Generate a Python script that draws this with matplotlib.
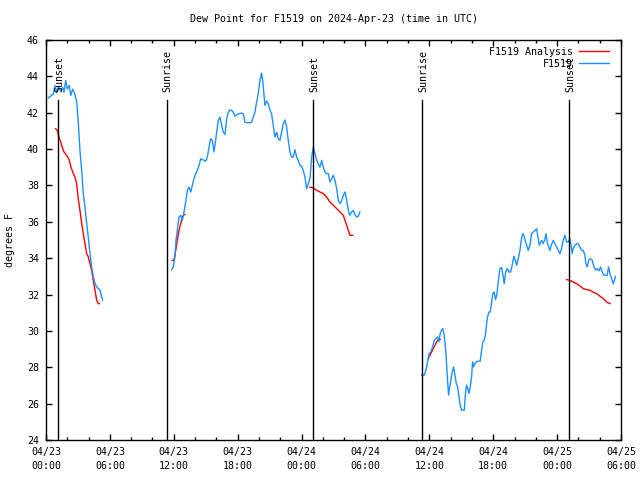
import matplotlib
matplotlib.use("Agg")
import matplotlib.pyplot as plt
import numpy as np

# time in hours since 2024-04-23 00:00 UTC
blue1_t = [0.22, 0.69, 0.85, 1.00, 1.15, 1.38, 1.57, 1.69, 1.85, 2.00, 2.19, 2.32, 2.51, 2.69, 2.88,
           3.03, 3.19, 3.35, 3.50, 3.66, 3.82, 3.97, 4.13, 4.29, 4.44, 4.60, 4.76, 4.91, 5.07, 5.23, 5.32]
blue1_v = [42.82, 43.04, 43.5, 43.1, 43.4, 43.2, 43.4, 43.13, 43.77, 43.3, 43.5, 42.95, 43.3, 43.05, 42.6,
           41.48, 39.9, 38.83, 37.55, 36.81, 35.9, 35.16, 34.25, 33.5, 32.97, 32.6, 32.42, 32.33, 32.24, 31.87, 31.69]

blue2_t = [11.80, 11.95, 12.11, 12.21, 12.37, 12.49, 12.65, 12.80, 12.96, 13.12, 13.27, 13.43, 13.59, 13.74,
           13.90, 14.06, 14.21, 14.37, 14.53, 14.68, 14.84, 15.00, 15.15, 15.31, 15.46, 15.62, 15.77, 15.87,
           16.03, 16.18, 16.34, 16.50, 16.65, 16.81, 16.97, 17.12, 17.28, 17.44, 17.59, 17.75, 17.91, 18.12,
           18.38, 18.53, 18.69, 18.85, 19.15, 19.32, 19.46, 19.62, 19.78, 19.93, 20.09, 20.25, 20.35, 20.47,
           20.56, 20.72, 20.87, 21.03, 21.19, 21.34, 21.50, 21.66, 21.81, 21.97, 22.13, 22.28, 22.44, 22.60,
           22.75, 22.91, 23.07, 23.22, 23.38, 23.54, 23.69, 23.85, 24.01, 24.16, 24.32, 24.48, 24.63, 24.79,
           24.95, 25.10, 25.26, 25.42, 25.57, 25.73, 25.89, 26.04, 26.20, 26.35, 26.51, 26.67, 26.83, 26.98,
           27.14, 27.30, 27.45, 27.61, 27.77, 27.92, 28.08, 28.24, 28.39, 28.54, 28.70, 28.86, 29.01, 29.17,
           29.32, 29.48]
blue2_v = [33.37, 33.52, 34.07, 34.98, 35.71, 36.26, 36.36, 36.08, 36.54, 37.09, 37.73, 37.91, 37.64, 38.0,
           38.37, 38.65, 38.83, 39.1, 39.47, 39.42, 39.38, 39.34, 39.56, 40.1, 40.57, 40.48, 39.84, 40.2,
           40.93, 41.58, 41.76, 41.3, 40.93, 40.8, 41.67, 42.03, 42.16, 42.12, 42.03, 41.8, 41.9, 41.94,
           41.98, 41.94, 41.48, 41.45, 41.45, 41.48, 41.76, 42.03, 42.58, 43.04, 43.77, 44.18, 43.77, 43.0,
           42.4, 42.65, 42.5, 42.15, 41.94, 41.3, 40.66, 40.93, 40.57, 40.48, 40.93, 41.4, 41.6, 41.2,
           40.48, 39.84, 39.56, 39.56, 39.97, 39.56, 39.38, 39.1, 39.05, 38.83, 38.46, 37.82, 38.1, 38.37,
           39.56, 40.11, 39.75, 39.38, 39.2, 39.01, 39.38, 39.01, 38.74, 38.65, 38.65, 38.19, 38.37, 38.56,
           38.28, 37.82, 37.18, 37.0, 37.18, 37.45, 37.64, 37.18, 36.63, 36.36, 36.54, 36.63, 36.41, 36.26,
           36.3, 36.54]

blue3_t = [35.28, 35.52, 35.68, 35.84, 35.99, 36.15, 36.31, 36.46, 36.62, 36.78, 36.90, 37.02, 37.15, 37.25,
           37.37, 37.46, 37.56, 37.65, 37.75, 37.81, 37.91, 38.03, 38.15, 38.28, 38.40, 38.53, 38.66, 38.78,
           38.90, 39.03, 39.28, 39.41, 39.50, 39.60, 39.72, 39.84, 39.97, 40.06, 40.16, 40.28, 40.44, 40.59,
           40.78, 40.91, 41.03, 41.15, 41.29, 41.38, 41.47, 41.60, 41.72, 41.85, 41.97, 42.09, 42.22, 42.35,
           42.47, 42.63, 42.79, 42.94, 43.03, 43.17, 43.32, 43.47, 43.63, 43.78, 43.94, 44.07, 44.20, 44.35,
           44.51, 44.63, 44.76, 44.88, 45.00, 45.14, 45.29, 45.45, 45.60, 45.76, 45.92, 46.08, 46.20, 46.32,
           46.45, 46.57, 46.69, 46.83, 46.95, 47.07, 47.20, 47.32, 47.45, 47.63, 47.79, 47.95, 48.10, 48.26,
           48.42, 48.57, 48.73, 48.89, 49.04, 49.20, 49.32, 49.42, 49.51, 49.67, 49.83, 49.98, 50.14, 50.30,
           50.45, 50.61, 50.70, 50.83, 50.99, 51.15, 51.30, 51.46, 51.62, 51.77, 51.93, 52.08, 52.23, 52.39,
           52.55, 52.70, 52.83, 52.96, 53.12, 53.27, 53.40, 53.49]
blue3_v = [27.57, 27.57, 27.84, 28.30, 28.76, 28.85, 29.12, 29.49, 29.58, 29.67, 29.40, 29.86, 30.04, 30.13,
           29.86, 29.40, 28.76, 27.84, 26.92, 26.47, 26.92, 27.29, 27.75, 28.02, 27.57, 27.11, 26.92, 26.37,
           25.92, 25.64, 25.64, 26.65, 27.02, 26.83, 26.56, 26.92, 27.47, 28.30, 28.02, 28.21, 28.30, 28.34,
           28.34, 28.94, 29.40, 29.49, 29.86, 30.41, 30.77, 31.04, 31.04, 31.59, 32.05, 32.14, 31.72, 32.05,
           32.69, 33.43, 33.48, 32.97, 32.6, 33.24, 33.43, 33.24, 33.24, 33.61, 34.1, 33.88, 33.61, 33.97,
           34.43, 34.98, 35.35, 35.26, 34.98, 34.71, 34.43, 34.71, 35.35, 35.44, 35.53, 35.62, 35.16, 34.71,
           34.89, 34.98, 34.80, 34.98, 35.35, 34.89, 34.62, 34.43, 34.71, 34.98, 34.80, 34.62, 34.43, 34.25,
           34.53, 34.98, 35.26, 34.89, 34.89, 35.07, 34.71, 34.25, 34.53, 34.71, 34.80, 34.80, 34.62, 34.43,
           34.43, 34.16, 33.70, 33.52, 33.92, 33.97, 33.88, 33.52, 33.34, 33.43, 33.30, 33.52, 33.24, 33.06,
           33.06, 33.06, 33.52, 33.15, 32.88, 32.6, 32.82, 33.0]

red1_t = [0.91, 1.06, 1.22, 1.38, 1.53, 1.69, 1.88, 2.04, 2.19, 2.35, 2.56, 2.72, 2.88, 3.03, 3.19, 3.35,
          3.50, 3.66, 3.82, 3.97, 4.13, 4.29, 4.44, 4.60, 4.76, 4.91, 5.00]
red1_v = [41.12, 41.03, 40.66, 40.38, 40.1, 39.84, 39.7, 39.56, 39.38, 39.0, 38.65, 38.46, 38.1, 37.27, 36.63,
          35.9, 35.35, 34.8, 34.25, 34.07, 33.7, 33.33, 32.79, 32.24, 31.69, 31.5, 31.5]
red2_t = [11.86, 12.02, 12.18, 12.33, 12.49, 12.65, 12.80, 12.96, 13.05]
red2_v = [33.88, 33.88, 34.43, 34.98, 35.53, 35.9, 36.26, 36.4, 36.4]
red3_t = [24.79, 25.10, 25.42, 25.73, 26.04, 26.35, 26.67, 26.98, 27.30, 27.61, 27.92, 28.08, 28.24, 28.39,
          28.54, 28.80]
red3_v = [37.91, 37.86, 37.73, 37.64, 37.55, 37.36, 37.09, 36.91, 36.73, 36.54, 36.36, 36.08, 35.81, 35.53,
          35.26, 35.26]
red4_t = [35.90, 36.06, 36.22, 36.37, 36.53, 36.69, 36.84, 37.02]
red4_v = [28.48, 28.66, 28.85, 29.03, 29.21, 29.40, 29.53, 29.53]
red5_t = [48.89, 49.20, 49.51, 49.83, 50.14, 50.45, 50.77, 51.08, 51.39, 51.71, 52.02, 52.33, 52.65, 52.96]
red5_v = [32.82, 32.79, 32.69, 32.6, 32.47, 32.33, 32.27, 32.24, 32.13, 32.05, 31.91, 31.78, 31.59, 31.5]

sun_t = [1.15, 11.33, 25.10, 35.34, 49.14]
sun_names = ["Sunset", "Sunrise", "Sunset", "Sunrise", "Sunset"]

tick_hours = [0, 6, 12, 18, 24, 30, 36, 42, 48, 54]
tick_labels = ["04/23\n00:00", "04/23\n06:00", "04/23\n12:00", "04/23\n18:00", "04/24\n00:00",
               "04/24\n06:00", "04/24\n12:00", "04/24\n18:00", "04/25\n00:00", "04/25\n06:00"]

plt.rcParams['font.family'] = ['DejaVu Sans Mono']
plt.rcParams['font.size'] = 7.2

fig = plt.figure(figsize=(6.4, 4.8), dpi=100)
ax = fig.add_axes([46/640, 40/480, 575/640, 400/480])

red = '#ff0000'
blue = '#1e90ff'

ax.plot(red1_t, red1_v, color=red, lw=1.0, label='F1519 Analysis')
for t, v in [(red2_t, red2_v), (red3_t, red3_v), (red4_t, red4_v), (red5_t, red5_v)]:
    ax.plot(t, v, color=red, lw=1.0)
ax.plot(blue1_t, blue1_v, color=blue, lw=1.0, label='F1519')
for t, v in [(blue2_t, blue2_v), (blue3_t, blue3_v)]:
    ax.plot(t, v, color=blue, lw=1.0)

# sunrise / sunset markers
for t, name in zip(sun_t, sun_names):
    ax.plot([t, t], [24, 42.7], color='black', lw=1.0)
    ax.text(t + 0.1, 43.15, name, rotation=90, ha='center', va='bottom')

ax.set_xlim(0, 54)
ax.set_ylim(24, 46)
ax.set_xticks(tick_hours)
ax.set_xticklabels(tick_labels, linespacing=1.5)
ax.set_xticks(np.arange(0, 55, 2), minor=True)
ax.set_yticks(np.arange(24, 47, 2))
ax.tick_params(which='both', direction='in', top=True, right=True, width=1.0)
ax.tick_params(which='major', length=4, pad=5)
ax.tick_params(which='minor', length=2.5)
for s in ax.spines.values():
    s.set_linewidth(1.0)

ax.set_ylabel('degrees F', labelpad=9)
ax.set_title('Dew Point for F1519 on 2024-Apr-23 (time in UTC)', fontsize=7.2, pad=13)
ax.legend(loc='upper right', bbox_to_anchor=(1 - 5/575, 1.0), frameon=False, markerfirst=False,
          handlelength=3.0, labelspacing=0.2, borderaxespad=0.3, handletextpad=0.6)

fig.savefig('out.png', dpi=100)
